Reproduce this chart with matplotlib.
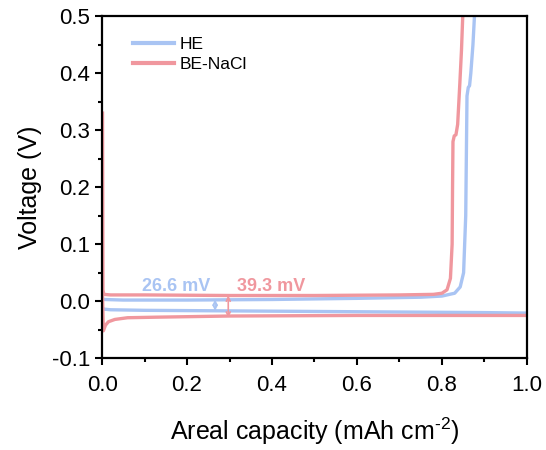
import matplotlib.pyplot as plt

plt.rcParams['font.family'] = ['Liberation Sans', 'DejaVu Sans']
plt.rcParams['axes.unicode_minus'] = False
plt.rcParams['mathtext.fontset'] = 'custom'
plt.rcParams['mathtext.rm'] = 'Liberation Sans'

## donnees
# HE : decharge (bas) puis charge (haut)
he_dis_x = [0.0, 0.005, 0.02, 0.1, 0.3, 0.5, 0.7, 0.9, 1.02]
he_dis_v = [-0.012, -0.014, -0.015, -0.016, -0.017, -0.018, -0.019, -0.020, -0.021]
he_ch_x = [0.0, 0.005, 0.05, 0.2, 0.4, 0.6, 0.75, 0.80, 0.83, 0.843, 0.851, 0.856,
           0.859, 0.862, 0.865, 0.868, 0.873, 0.878]
he_ch_v = [0.004, 0.003, 0.002, 0.002, 0.003, 0.005, 0.007, 0.009, 0.014, 0.025, 0.05, 0.15,
           0.36, 0.375, 0.378, 0.40, 0.45, 0.52]

# BE-NaCl
be_dis_x = [0.001, 0.003, 0.008, 0.015, 0.03, 0.06, 0.13, 0.3, 0.6, 1.02]
be_dis_v = [0.01, -0.052, -0.042, -0.036, -0.032, -0.029, -0.028, -0.026, -0.025, -0.025]
be_ch_x = [0.001, 0.002, 0.004, 0.02, 0.1, 0.3, 0.5, 0.7, 0.78, 0.80, 0.812, 0.820,
           0.824, 0.825, 0.826, 0.829, 0.833, 0.837, 0.842, 0.846, 0.850]
be_ch_v = [0.33, 0.02, 0.012, 0.011, 0.011, 0.010, 0.010, 0.011, 0.012, 0.014, 0.02, 0.04,
           0.10, 0.20, 0.28, 0.29, 0.292, 0.31, 0.38, 0.44, 0.52]

labels = ["HE", "BE-NaCl"]
gaps = ["26.6 mV", "39.3 mV"]

bleu = "#a9c4f3"
rouge = "#f0979e"

fig = plt.figure(figsize=(5.46, 4.5), dpi=100)
ax = fig.add_axes([0.187, 0.204, 0.778, 0.76])

ax.plot(he_dis_x, he_dis_v, color=bleu, lw=2.4)
ax.plot(he_ch_x, he_ch_v, color=bleu, lw=2.4, label=labels[0])
ax.plot(be_dis_x, be_dis_v, color=rouge, lw=2.4)
ax.plot(be_ch_x, be_ch_v, color=rouge, lw=2.4, label=labels[1])

# fleches d'ecart
ax.annotate("", xy=(0.266, -0.017), xytext=(0.266, 0.003),
            arrowprops=dict(arrowstyle="<->", color=bleu, lw=1.2, mutation_scale=7,
                            shrinkA=0, shrinkB=0))
ax.annotate("", xy=(0.297, -0.029), xytext=(0.297, 0.010),
            arrowprops=dict(arrowstyle="<->", color=rouge, lw=1.2, mutation_scale=7,
                            shrinkA=0, shrinkB=0))
ax.text(0.174, 0.025, gaps[0], color=bleu, fontsize=13, fontweight="bold",
        ha="center", va="center")
ax.text(0.397, 0.025, gaps[1], color=rouge, fontsize=13, fontweight="bold",
        ha="center", va="center")

ax.set_xlim(0, 1.0)
ax.set_ylim(-0.1, 0.5)
ax.set_xticks([0, 0.2, 0.4, 0.6, 0.8, 1.0])
ax.set_xticks([0.1, 0.3, 0.5, 0.7, 0.9], minor=True)
ax.set_yticks([-0.1, 0, 0.1, 0.2, 0.3, 0.4, 0.5])
ax.set_yticks([-0.05, 0.05, 0.15, 0.25, 0.35, 0.45], minor=True)
ax.tick_params(which="major", direction="out", length=5, width=1.5, labelsize=16)
ax.tick_params(axis="x", which="major", pad=7)
ax.tick_params(which="minor", direction="out", length=3, width=1.5)
for s in ax.spines.values():
    s.set_linewidth(1.6)

ax.set_xlabel(r"Areal capacity (mAh cm$^{\text{-2}}$)", fontsize=18, labelpad=14)
ax.set_ylabel("Voltage (V)", fontsize=18, labelpad=7)

leg = ax.legend(loc="upper left", bbox_to_anchor=(0.035, 0.985), frameon=False, fontsize=12.5,
                handlelength=2.4, handletextpad=0.3, labelspacing=0.25)
for h in leg.get_lines():
    h.set_linewidth(3)

plt.savefig("out.png", dpi=100)
